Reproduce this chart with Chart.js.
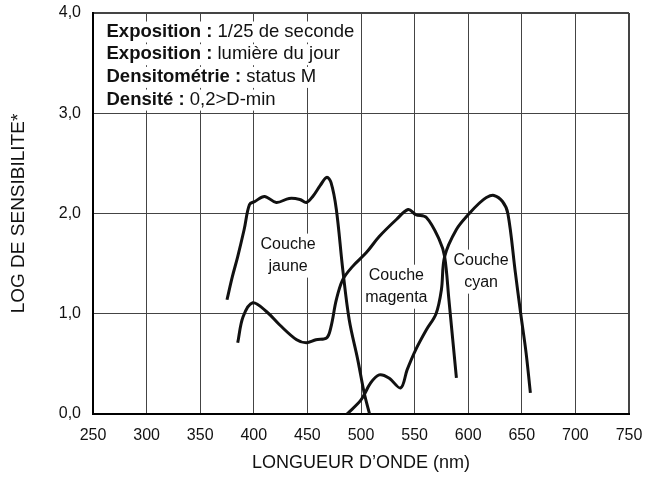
<!DOCTYPE html>
<html>
<head>
<meta charset="utf-8">
<script src="https://cdn.jsdelivr.net/npm/chart.js@4"></script>
<style>
    html, body { margin: 0; padding: 0; background: #fff; }
    #wrap { width: 646px; height: 482px; }
</style>
</head>
<body>
<div id="wrap"><canvas id="sensChart"></canvas></div>
<script>
    // longueurs d'onde (nm) et log de sensibilité
    const jauneNm = [375, 380, 385, 391, 396, 401, 410, 421, 433, 443, 449, 455, 462, 468, 472, 477, 483, 489, 497, 503, 508];
    const jauneVal = [1.14, 1.37, 1.57, 1.84, 2.09, 2.12, 2.17, 2.11, 2.15, 2.14, 2.11, 2.17, 2.28, 2.36, 2.31, 2.04, 1.44, 0.94, 0.54, 0.21, 0.0];

    const magentaNm = [385, 390, 399, 412, 424, 440, 449, 458, 468, 472, 477, 483, 492, 505, 517, 533, 544, 551, 561, 573, 578, 582, 589];
    const magentaVal = [0.71, 0.97, 1.11, 1.02, 0.89, 0.74, 0.71, 0.74, 0.76, 0.87, 1.14, 1.34, 1.47, 1.61, 1.77, 1.94, 2.04, 1.99, 1.96, 1.74, 1.57, 1.14, 0.36];

    const cyanNm = [487, 500, 509, 517, 526, 537, 543, 551, 561, 570, 575, 578, 589, 601, 610, 617, 624, 632, 637, 644, 649, 654, 658];
    const cyanVal = [0.0, 0.14, 0.31, 0.39, 0.36, 0.26, 0.44, 0.64, 0.84, 1.0, 1.24, 1.57, 1.84, 2.0, 2.1, 2.16, 2.18, 2.12, 2.0, 1.41, 1.0, 0.61, 0.21];

    const xTicks = [250, 300, 350, 400, 450, 500, 550, 600, 650, 700, 750];
    const yTicks = [0, 1, 2, 3, 4];

    const infoLines = [
        ['Exposition : ', '1/25 de seconde'],
        ['Exposition : ', 'lumière du jour'],
        ['Densitométrie : ', 'status M'],
        ['Densité : ', '0,2>D-min']
    ];
    // étiquettes des couches (nm, log)
    const couches = [
        { lines: ['Couche', 'jaune'], nm: 432, val: 1.58 },
        { lines: ['Couche', 'magenta'], nm: 533, val: 1.27 },
        { lines: ['Couche', 'cyan'], nm: 612, val: 1.42 }
    ];

    const FONT = '"Liberation Sans", Arial, Helvetica, sans-serif';

    const toPoints = (xs, ys) => xs.map((x, i) => ({ x: x, y: ys[i] }));

    // texte annoté (encadré + couches)
    const textPlugin = {
        id: 'textPlugin',
        beforeDatasetsDraw(chart) {
            const { ctx, chartArea, scales } = chart;
            ctx.save();
            ctx.textBaseline = 'middle';
            // encadré info
            let y = chartArea.top + 18.5;
            infoLines.forEach(l => {
                ctx.font = 'bold 18.5px ' + FONT;
                const w1 = ctx.measureText(l[0]).width;
                ctx.font = '18.5px ' + FONT;
                const w2 = ctx.measureText(l[1]).width;
                const x = chartArea.left + 13.5;
                ctx.fillStyle = '#fff';
                ctx.fillRect(x - 2, y - 10, w1 + w2 + 4, 21);
                ctx.fillStyle = '#111';
                ctx.font = 'bold 18.5px ' + FONT;
                ctx.textAlign = 'left';
                ctx.fillText(l[0], x, y);
                ctx.font = '18.5px ' + FONT;
                ctx.fillText(l[1], x + w1, y);
                y += 22.7;
            });
            // couches
            ctx.font = '16px ' + FONT;
            ctx.textAlign = 'center';
            couches.forEach(c => {
                const cx = scales.x.getPixelForValue(c.nm);
                const cy = scales.y.getPixelForValue(c.val);
                const w = Math.max(...c.lines.map(t => ctx.measureText(t).width));
                ctx.fillStyle = '#fff';
                ctx.fillRect(cx - w / 2 - 3, cy - 22, w + 6, 44);
                ctx.fillStyle = '#111';
                ctx.fillText(c.lines[0], cx, cy - 11);
                ctx.fillText(c.lines[1], cx, cy + 11);
            });
            ctx.restore();
        }
    };

    const lineStyle = {
        borderColor: '#111',
        borderWidth: 3,
        pointRadius: 0,
        tension: 0.35,
        fill: false
    };

    let sensContext = document.getElementById('sensChart');
    let sensChart = new Chart(sensContext, {
        type: 'line',
        data: {
            datasets: [
                Object.assign({ label: 'Couche jaune', data: toPoints(jauneNm, jauneVal) }, lineStyle),
                Object.assign({ label: 'Couche magenta', data: toPoints(magentaNm, magentaVal) }, lineStyle),
                Object.assign({ label: 'Couche cyan', data: toPoints(cyanNm, cyanVal) }, lineStyle)
            ]
        },
        options: {
            responsive: true,
            maintainAspectRatio: false,
            animation: false,
            layout: { padding: { top: 13, right: 17, left: 0, bottom: 0 } },
            plugins: {
                legend: { display: false },
                tooltip: { enabled: false }
            },
            scales: {
                x: {
                    type: 'linear',
                    min: xTicks[0],
                    max: xTicks[xTicks.length - 1],
                    afterBuildTicks: s => { s.ticks = xTicks.map(v => ({ value: v })); },
                    afterFit: s => { s.height = 68; s.paddingLeft = 0; s.paddingRight = 0; },
                    ticks: { font: { family: FONT, size: 16 }, color: '#111', padding: 12, maxRotation: 0 },
                    grid: {
                        color: '#444',
                        drawTicks: false,
                        lineWidth: c => (c.tick && c.tick.value === 750 ? 2 : 1)
                    },
                    border: { display: true, color: '#000', width: 2 },
                    title: {
                        display: true,
                        text: 'LONGUEUR D’ONDE (nm)',
                        font: { family: FONT, size: 18 },
                        color: '#111',
                        padding: { top: 0, bottom: 8 }
                    }
                },
                y: {
                    min: 0,
                    max: 4,
                    afterBuildTicks: s => { s.ticks = yTicks.map(v => ({ value: v })); },
                    afterFit: s => { s.width = 93; s.paddingTop = 0; s.paddingBottom = 0; },
                    ticks: {
                        font: { family: FONT, size: 16 },
                        color: '#111',
                        padding: 12,
                        callback: v => v.toFixed(1).replace('.', ',')
                    },
                    grid: {
                        color: '#444',
                        drawTicks: false,
                        lineWidth: c => (c.tick && c.tick.value === 4 ? 2 : 1)
                    },
                    border: { display: true, color: '#000', width: 2 },
                    title: {
                        display: true,
                        text: 'LOG DE SENSIBILITE*',
                        font: { family: FONT, size: 19 },
                        color: '#111',
                        padding: { top: 7.5, bottom: 0 }
                    }
                }
            }
        },
        plugins: [textPlugin]
    });
</script>
</body>
</html>
